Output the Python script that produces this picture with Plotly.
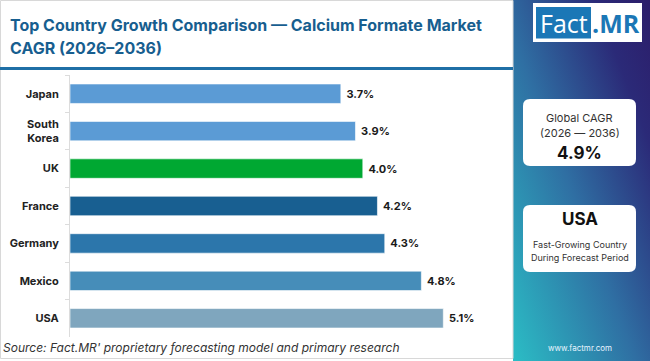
import base64
import plotly.graph_objects as go

countries = ["Japan", "South<br>Korea", "UK", "France", "Germany", "Mexico", "USA"]
cagr = [3.7, 3.9, 4.0, 4.2, 4.3, 4.8, 5.1]
bar_colors = ["#5b9bd5", "#5b9bd5", "#00a832", "#185f91", "#2c76ab", "#468db9", "#7fa6be"]
value_labels = ["3.7%", "3.9%", "4.0%", "4.2%", "4.3%", "4.8%", "5.1%"]

W, H = 650, 361
SB = 513  # sidebar left edge

fig = go.Figure()
fig.add_trace(go.Bar(
    x=cagr, y=countries, orientation="h",
    marker=dict(color=bar_colors, line=dict(color="rgba(255,255,255,0.6)", width=1)),
    width=0.52,
    text=value_labels, texttemplate=" %{text}", textposition="outside", cliponaxis=False,
    textfont=dict(family="Inter, Roboto, sans-serif", size=11, color="#1a1a1a", weight="bold"),
    hoverinfo="skip",
))

fig.update_layout(
    width=W, height=H,
    margin=dict(l=0, r=0, t=0, b=0),
    paper_bgcolor="#ffffff", plot_bgcolor="#ffffff",
    showlegend=False,
    xaxis=dict(domain=[70 / W, 505 / W], range=[0, 435 / 73.2], visible=False, fixedrange=True),
    yaxis=dict(domain=[1 - 337 / H, 1 - 75 / H], autorange="reversed", type="category",
               showline=True, linecolor="#dcdcdc", linewidth=1,
               ticks="outside", tickson="boundaries", ticklen=4, tickcolor="#dcdcdc",
               tickfont=dict(family="Inter, Roboto, sans-serif", size=11, color="#222222", weight="bold"),
               ticklabelstandoff=8, showgrid=False, fixedrange=True),
    bargap=0.48,
)

svg = f'''<svg xmlns="http://www.w3.org/2000/svg" width="{W-SB}" height="{H}" viewBox="0 0 {W-SB} {H}" preserveAspectRatio="none">
<defs><linearGradient id="g" x1="0" y1="1" x2="1" y2="0">
<stop offset="0" stop-color="#2bbdc5"/>
<stop offset="0.45" stop-color="#2f6fa3"/>
<stop offset="0.8" stop-color="#2b2a78"/>
<stop offset="1" stop-color="#2c1d6a"/>
</linearGradient></defs>
<rect width="{W-SB}" height="{H}" fill="url(#g)"/></svg>'''
src = "data:image/svg+xml;base64," + base64.b64encode(svg.encode()).decode()
fig.add_layout_image(dict(source=src, xref="paper", yref="paper", x=SB / W, y=1,
                          sizex=(W - SB) / W, sizey=1, xanchor="left", yanchor="top",
                          sizing="stretch", layer="below"))

def px_x(v):
    return v / W

def px_y(v):
    return 1 - v / H

shapes = []
shapes.append(dict(type="rect", xref="paper", yref="paper", x0=px_x(0.5), x1=px_x(SB), y0=px_y(358.5), y1=px_y(0.5),
                   line=dict(color="#d8d8d8", width=1), fillcolor="rgba(0,0,0,0)", layer="below"))
shapes.append(dict(type="line", xref="paper", yref="paper", x0=px_x(0), x1=px_x(SB), y0=px_y(68.5), y1=px_y(68.5),
                   line=dict(color="#1f6fa6", width=3)))
shapes.append(dict(type="rect", xref="paper", yref="paper", x0=px_x(533), x1=px_x(642), y0=px_y(42), y1=px_y(3),
                   fillcolor="#ffffff", line=dict(width=0)))
shapes.append(dict(type="rect", xref="paper", yref="paper", x0=px_x(536), x1=px_x(591), y0=px_y(38.5), y1=px_y(7),
                   fillcolor="#1b77b6", line=dict(width=0)))

def P(x, y):
    return f"{x / W:.5f},{1 - y / H:.5f}"

for (x0, y0, x1, y1) in [(523, 99, 636, 166), (523, 205, 636, 272)]:
    r = 7
    path = (f"M {P(x0+r, y0)} L {P(x1-r, y0)} Q {P(x1, y0)} {P(x1, y0+r)} L {P(x1, y1-r)} Q {P(x1, y1)} {P(x1-r, y1)} "
            f"L {P(x0+r, y1)} Q {P(x0, y1)} {P(x0, y1-r)} L {P(x0, y0+r)} Q {P(x0, y0)} {P(x0+r, y0)} Z")
    shapes.append(dict(type="path", xref="paper", yref="paper", path=path, fillcolor="#ffffff", line=dict(width=0)))

fig.update_layout(shapes=shapes)

def ann(x, y, text, size, color, weight="normal", family="Inter, Roboto, sans-serif", xanchor="center", style="normal"):
    fig.add_annotation(xref="paper", yref="paper", x=x / W, y=1 - y / H, text=text, showarrow=False,
                       xanchor=xanchor, yanchor="middle", align="left" if xanchor == "left" else "center",
                       font=dict(size=size, color=color, family=family, weight=weight, style=style))

ann(8, 25, "Top Country Growth Comparison — Calcium Formate Market", 16, "#175e8f", weight="bold", xanchor="left")
ann(8, 48, "CAGR (2026–2036)", 16, "#175e8f", weight="bold", xanchor="left")
ann(1, 347, "Source: Fact.MR' proprietary forecasting model and primary research", 12, "#333333",
    xanchor="left", style="italic")

ann(563.5, 23, "Fact", 25, "#ffffff", family="Open Sans, Roboto, sans-serif")
ann(616, 23, ".MR", 25, "#1b77b6", weight="bold", family="Open Sans, Roboto, sans-serif")

ann(579.5, 118, "Global CAGR", 11, "#333333")
ann(579.5, 133, "(2026 — 2036)", 11, "#333333")
ann(579.5, 153, "4.9%", 17, "#111111", weight="bold")
ann(579.5, 219, "USA", 17, "#111111", weight="bold")
ann(579.5, 244, "Fast-Growing Country", 9, "#333333")
ann(579.5, 257, "During Forecast Period", 9, "#333333")
ann(580, 348, "www.factmr.com", 8, "#e8f4ff")

fig.write_html("out.html", config={"displayModeBar": False},
               post_script="document.body.style.margin='0';document.body.style.overflow='hidden';")
